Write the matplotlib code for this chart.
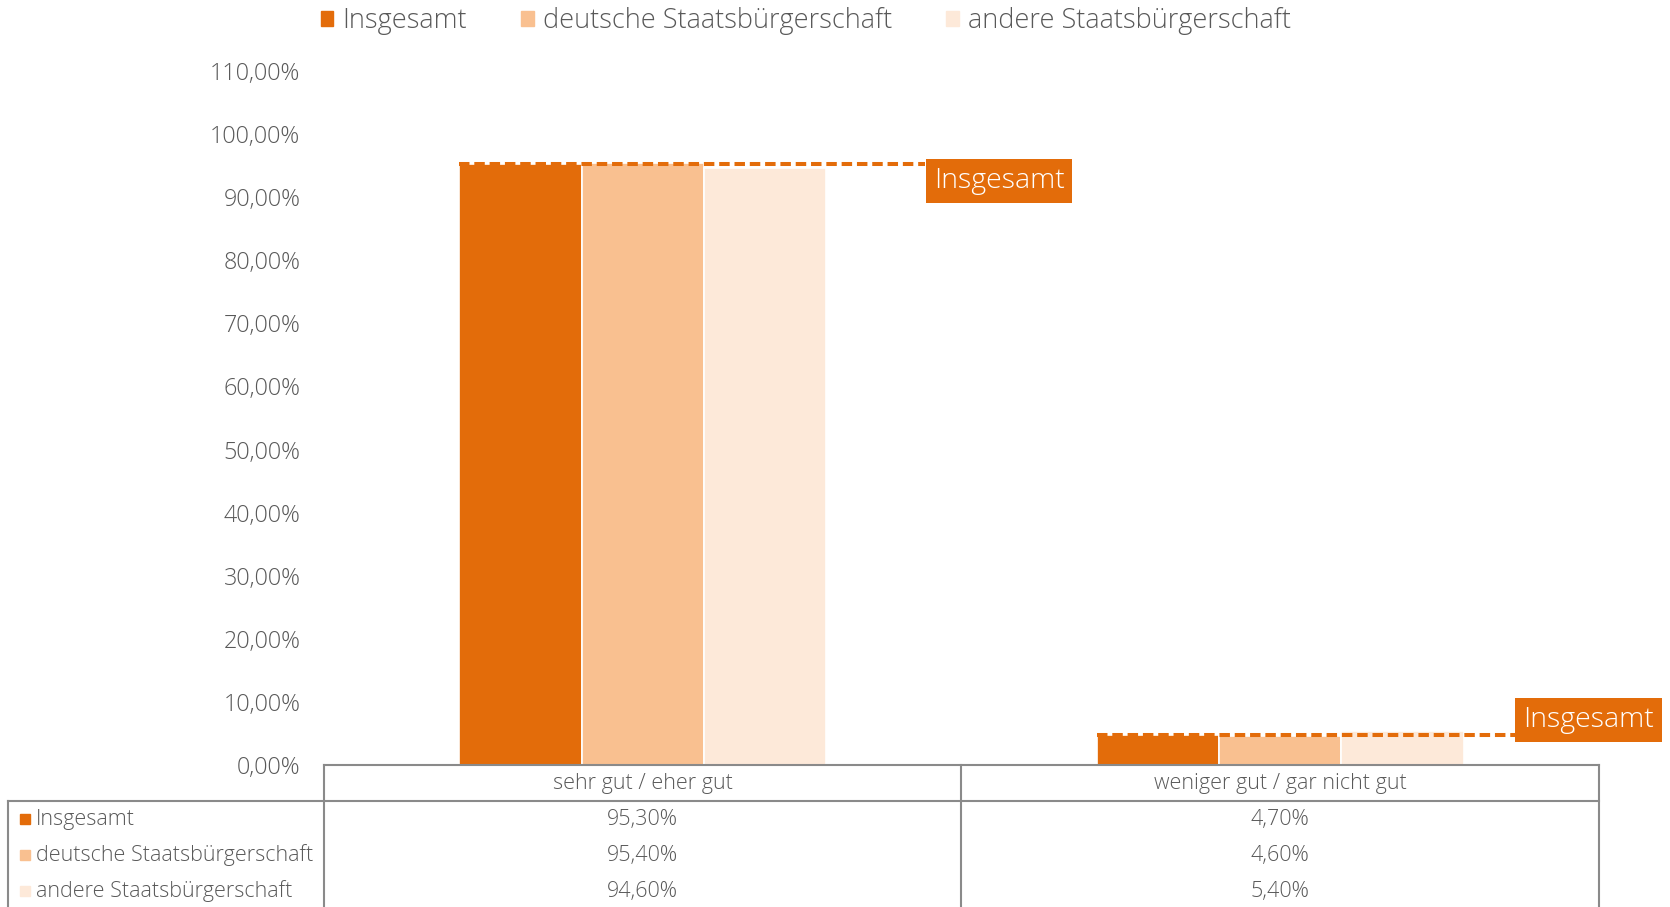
import numpy as np
import matplotlib
matplotlib.use('Agg')
import matplotlib.pyplot as plt
from matplotlib.patches import Rectangle
from matplotlib.lines import Line2D

categories = ['sehr gut / eher gut', 'weniger gut / gar nicht gut']
series_names = ['Insgesamt', 'deutsche Staatsbürgerschaft', 'andere Staatsbürgerschaft']
insgesamt = [0.953, 0.047]
deutsche = [0.954, 0.046]
andere = [0.946, 0.054]
yticks = [0.0, 0.1, 0.2, 0.3, 0.4, 0.5, 0.6, 0.7, 0.8, 0.9, 1.0, 1.1]

colors = ['#E36C0A', '#F9C090', '#FDE9D9']
text_col = '#595959'
line_col = '#8a8a8a'

plt.rcParams['font.family'] = ['Open Sans', 'DejaVu Sans']
plt.rcParams['font.weight'] = 'light'

W, H = 1670, 907
fig = plt.figure(figsize=(W / 100, H / 100), dpi=100)

def fx(px):
    return px / W

def fy(py):
    return 1 - py / H

ax_l, ax_r, ax_t, ax_b = 324, 1599, 71, 765
ax = fig.add_axes([fx(ax_l), fy(ax_b), fx(ax_r - ax_l), fy(ax_t) - fy(ax_b)])

values = [insgesamt, deutsche, andere]
bw = 0.192
x = np.arange(len(categories))
for k, vals in enumerate(values):
    ax.bar(x + (k - 1) * bw, vals, width=bw, color=colors[k], edgecolor='white', linewidth=1.2)

ax.set_xlim(-0.5, 1.5)
ax.set_ylim(0, 1.1)
ax.set_yticks(yticks)
ax.set_yticklabels([('%.2f%%' % (v * 100)).replace('.', ',') for v in yticks],
                   fontsize=16.8, color=text_col)
ax.tick_params(axis='y', length=0, pad=17)
ax.set_xticks([])
for s in ax.spines.values():
    s.set_visible(False)

# dashed "Insgesamt" lines with label boxes
line_end = [0.443, 1.368]
label_dy = [-0.027, 0.0236]
for i, v in enumerate(insgesamt):
    ax.plot([x[i] - 1.5 * bw, line_end[i]], [v, v], color=colors[0], lw=2.9,
            linestyle=(0, (2.6, 1.2)), dash_capstyle='butt', clip_on=False, zorder=3)
    ax.text(line_end[i] + 0.0134, v + label_dy[i], 'Insgesamt', color='white', fontsize=20.5,
            va='center', ha='left', clip_on=False, zorder=4,
            bbox=dict(boxstyle='square,pad=0.28', fc=colors[0], ec='none'))

# legend on top
handles = [Rectangle((0, 0), 1, 1, color=c) for c in colors]
fig.legend(handles, series_names, loc='center', bbox_to_anchor=(fx(806), fy(21)), ncol=3,
           frameon=False, fontsize=19.5, handlelength=0.45, handleheight=0.45, handletextpad=0.35,
           columnspacing=2.0, labelcolor=text_col)

# data table
row_h = 36
tbl_left = 8
rows_y = [ax_b + row_h * (r + 1) for r in range(4)]
mid = (ax_l + ax_r) / 2
lines = [
    ((ax_l, ax_r), (ax_b, ax_b)),
    ((tbl_left, ax_r), (rows_y[0], rows_y[0])),
    ((ax_l, ax_l), (ax_b, H)),
    ((mid, mid), (ax_b, H)),
    ((ax_r, ax_r), (ax_b, H)),
    ((tbl_left, tbl_left), (rows_y[0], H)),
]
for xs, ys in lines:
    fig.add_artist(Line2D([fx(xs[0]), fx(xs[1])], [fy(ys[0]), fy(ys[1])], color=line_col, lw=1.5))

cat_w = (ax_r - ax_l) / len(categories)
for i, c in enumerate(categories):
    cx = ax_l + cat_w * (i + 0.5)
    fig.text(fx(cx), fy(ax_b + row_h / 2), c, ha='center', va='center', fontsize=15.5, color=text_col)
    for r, vals in enumerate(values):
        cy = rows_y[r] + row_h / 2
        fig.text(fx(cx), fy(cy), ('%.2f%%' % (vals[i] * 100)).replace('.', ','),
                 ha='center', va='center', fontsize=15.5, color=text_col)

for r, name in enumerate(series_names):
    cy = rows_y[r] + row_h / 2
    fig.add_artist(Rectangle((fx(20), fy(cy + 5)), fx(10), fy(cy - 5) - fy(cy + 5), color=colors[r]))
    fig.text(fx(36), fy(cy), name, ha='left', va='center', fontsize=15.5, color=text_col)

fig.savefig('out.png', dpi=100, facecolor='white')
